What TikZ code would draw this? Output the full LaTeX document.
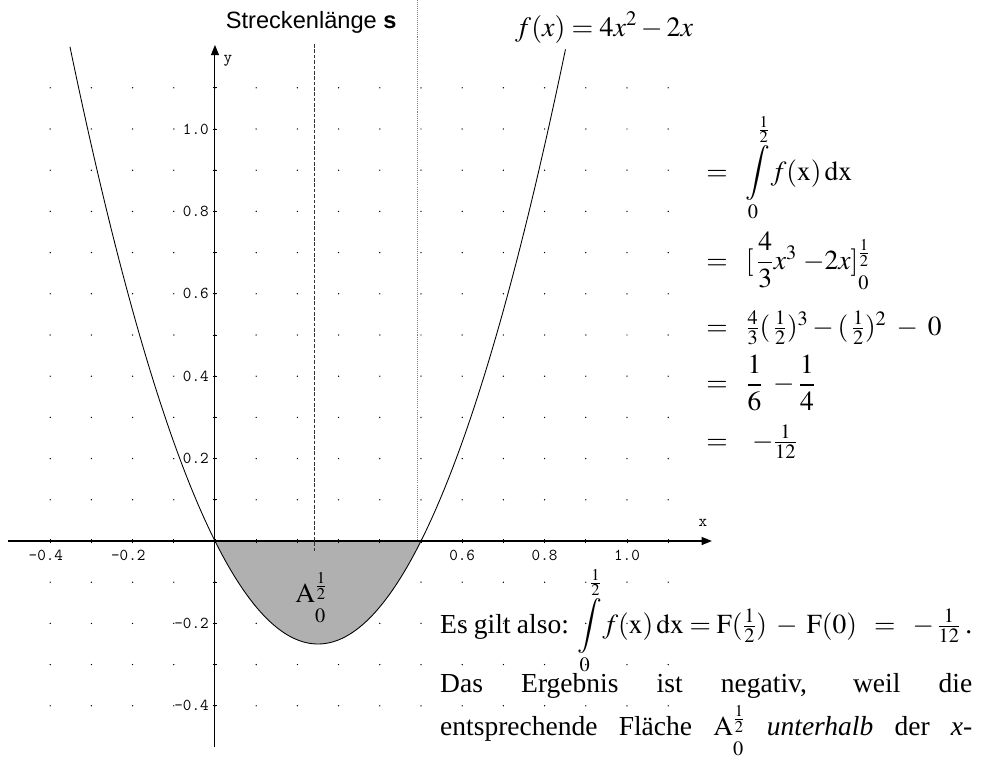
\documentclass[tikz,border=0pt]{standalone}
\usepackage{amsmath}
\usepackage{mathptmx}
\usepackage{fontspec}
\setmainfont{Liberation Serif}
\setsansfont{Liberation Sans}
\usepackage{xcolor}
\usepackage{tikz}
\usetikzlibrary{arrows.meta}

\definecolor{areagray}{gray}{0.69}

% lower limit set well below the line
\newcommand{\lowzero}{\raisebox{-1.1ex}{$\scriptstyle 0$}}
\newcommand{\intzh}{\displaystyle\int\limits_{0}^{\frac{1}{2}}}

\begin{document}
\begin{tikzpicture}[
        x=10cm, y=10cm,
        axis/.style={line width=0.7pt, -{Triangle[length=7pt, width=5.5pt]}},
        tickmark/.style={line width=0.5pt},
        ticklabel/.style={font=\fontsize{11.5}{11.5}\ttfamily, inner sep=0pt},
        graph/.style={line width=0.6pt},
        area/.style={fill=areagray},
        guide/.style={line width=0.7pt, black!80, dash pattern=on 2.5pt off 1.2pt},
        marker/.style={line width=0.5pt, gray, dash pattern=on 0.7pt off 0.7pt},
        txt/.style={inner sep=0pt, font=\fontsize{19}{23}\selectfont},
        eqrow/.style={txt, anchor=base west},
    ]

    \useasboundingbox (-0.5218,-0.5437) rectangle (1.8641,1.3131);

    % 1. Dot grid
    \foreach \i in {-4,...,11}
        \foreach \j in {-4,...,11}
            \fill (\i/10,\j/10) circle (0.5pt);

    % 2. Area between graph and x-axis
    \fill[area] (0,0) -- plot[domain=0:0.5, samples=60] (\x,{4*\x*\x-2*\x}) -- cycle;

    % 3. Axes, ticks and labels
    \draw[axis] (-0.502,0) -- (1.206,0);
    \draw[axis] (0,-0.5) -- (0,1.204);
    \foreach \i in {-4,...,11} {
        \draw[tickmark] (\i/10,-0.006) -- (\i/10,0.006);
        \draw[tickmark] (-0.006,\i/10) -- (0.006,\i/10);
    }
    \foreach \v/\t [count=\k] in {-0.4/\llap{-}0.4, -0.2/\llap{-}0.2,
                                  0.6/0.6, 0.8/0.8, 1.0/1.0}
        \node[ticklabel, anchor=north] (xlab\k) at (\v,-0.021) {\t};
    \foreach \v [count=\k] in {1.0,0.8,0.6,0.4,0.2,-0.2,-0.4}
        \node[ticklabel, anchor=east] (ylab\k) at (-0.0146,\v) {\v};
    \node[ticklabel] (xname) at (1.184,0.0437) {x};
    \node[ticklabel] (yname) at (0.0316,1.165) {y};

    % 4. Graph of f
    \draw[graph] plot[domain=-0.352:0.852, samples=150, smooth] (\x,{4*\x*\x-2*\x});

    % 5. Vertical guides
    \draw[guide] (0.2427,1.206) -- (0.2427,-0.029);
    \draw[marker] (0.492,1.3131) -- (0.492,0);

    % 6. Headings
    \node[anchor=base, inner sep=0pt, font=\sffamily\fontsize{16.3}{18}\selectfont]
        (strecke) at (0.2335,1.245) {Streckenlänge \textbf{s}};
    \node[anchor=base west, inner sep=0pt, font=\fontsize{19.3}{22}\selectfont]
        (fname) at (0.728,1.2257) {$f(x) = 4x^2 - 2x$};
    \node[txt, anchor=base west] (area) at (0.1942,-0.1481)
        {$\mathrm{A}^{\frac{1}{2}}_{\lowzero}$};

    % 7. Calculation
    \node[eqrow] (row1) at (1.1917,0.876)
        {$=\;\;\intzh\! f(\mathrm{x})\,\mathrm{dx}$};
    \node[eqrow] (row2) at (1.1917,0.660)
        {$=\;\;[\,\dfrac{4}{3}x^3\;{-}2x]^{\frac{1}{2}}_{\lowzero}$};
    \node[eqrow] (row3) at (1.1917,0.500)
        {$=\;\;\tfrac{4}{3}(\,\tfrac{1}{2})^3-(\,\tfrac{1}{2})^2\;-\;0$};
    \node[eqrow] (row4) at (1.1917,0.362)
        {$=\;\;\dfrac{1}{6}\;-\dfrac{1}{4}$};
    \node[eqrow] (row5) at (1.1917,0.223)
        {$=\;\;\;-\tfrac{1}{12}$};

    % 8. Conclusion
    \node[eqrow] (line1) at (0.546,-0.2233)
        {\makebox[367.4pt][s]{Es gilt also: $\intzh\! f(\mathrm{x})\,\mathrm{dx} = \mathrm{F}(\tfrac{1}{2})\;-\;\mathrm{F}(0)\;\;=\;\;-\,\tfrac{1}{12}$\,.}};
    \node[eqrow] (line2) at (0.546,-0.3689)
        {\makebox[367.4pt][s]{Das Ergebnis ist negativ, weil die}};
    \node[eqrow] (line3) at (0.546,-0.4709)
        {\makebox[367.4pt][s]{entsprechende Fläche $\mathrm{A}^{\frac{1}{2}}_{\lowzero}$ \textit{unterhalb} der \textit{x-}}};

\end{tikzpicture}
\end{document}
